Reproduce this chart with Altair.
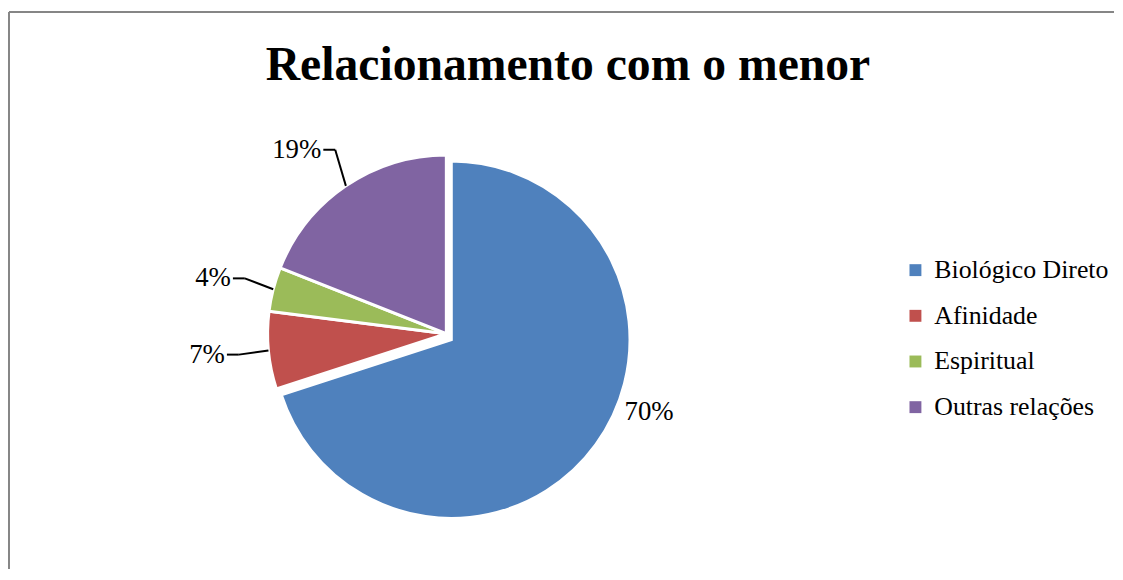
import math
import altair as alt
import pandas as pd

# ---- data ----
categories = ["Biológico Direto", "Afinidade", "Espiritual", "Outras relações"]
values = [70, 7, 4, 19]
labels = ["70%", "7%", "4%", "19%"]
colors = ["#4F81BD", "#C0504D", "#9BBB59", "#8064A2"]
title_text = "Relacionamento com o menor"

df = pd.DataFrame({
    "cat": categories,
    "value": values,
    "label": labels,
    "order": list(range(len(categories))),
})

# ---- layout ----
W, H = 1112, 561
CX, CY = 440.5, 324      # centre of the small slices
BX, BY = 445.5, 330      # centre of the exploded main slice
R = 180                  # pie radius
RT = 224                 # label radius
FONT = "Liberation Serif"

is_main = alt.datum.cat == categories[0]
not_main = alt.datum.cat != categories[0]

color = alt.Color(
    "cat:N",
    scale=alt.Scale(domain=categories, range=colors),
    sort=categories,
    legend=alt.Legend(
        title=None,
        orient="none",
        legendX=900,
        legendY=247,
        symbolType="square",
        symbolSize=144,
        symbolStrokeWidth=0,
        labelFont=FONT,
        labelFontSize=26,
        labelColor="black",
        labelOffset=6,
        rowPadding=20,
        padding=0,
        labelLimit=400,
    ),
)

base = alt.Chart(df)

arcs_rest = base.mark_arc(radius=R, stroke="white", strokeWidth=3).encode(
    theta=alt.Theta("value:Q", stack=True),
    color=color,
    order=alt.Order("order:Q"),
    x=alt.value(CX),
    y=alt.value(CY),
    opacity=alt.condition(is_main, alt.value(0), alt.value(1)),
)

arcs_main = base.mark_arc(radius=R, stroke="white", strokeWidth=3).encode(
    theta=alt.Theta("value:Q", stack=True),
    color=color,
    order=alt.Order("order:Q"),
    x=alt.value(BX),
    y=alt.value(BY),
    opacity=alt.condition(is_main, alt.value(1), alt.value(0)),
)

geo = (
    base.transform_joinaggregate(total="sum(value)")
    .transform_window(cum="sum(value)", sort=[alt.SortField("order")], frame=[None, 0])
    .transform_calculate(mid="(datum.cum - datum.value/2) / datum.total * 2 * PI")
    .transform_calculate(
        ex=f"{CX} + {R} * sin(datum.mid)",
        ey=f"{CY} - {R} * cos(datum.mid)",
        tx=f"{CX} + {RT} * sin(datum.mid)",
        ty=f"{CY} - {RT} * cos(datum.mid)",
    )
    .transform_calculate(bx="datum.tx + 14", lx="datum.tx + 2")
    .transform_filter(not_main)
)

lead1 = geo.mark_rule(color="black", strokeWidth=2).encode(
    x=alt.X("ex:Q", scale=None, axis=None),
    y=alt.Y("ey:Q", scale=None, axis=None),
    x2="bx:Q",
    y2="ty:Q",
)
lead2 = geo.mark_rule(color="black", strokeWidth=2).encode(
    x=alt.X("bx:Q", scale=None, axis=None),
    x2="lx:Q",
    y=alt.Y("ty:Q", scale=None, axis=None),
)
lbl_small = geo.mark_text(
    font=FONT, fontSize=27, align="right", baseline="middle", color="black"
).encode(
    x=alt.X("tx:Q", scale=None, axis=None),
    y=alt.Y("ty:Q", scale=None, axis=None),
    text="label:N",
)

lbl_main = base.transform_filter(is_main).mark_text(
    font=FONT, fontSize=27, align="center", baseline="middle", color="black",
    theta=math.radians(110), radius=212,
).encode(x=alt.value(BX), y=alt.value(BY), text="label:N")

one = pd.DataFrame({"t": [title_text]})
title = alt.Chart(one).mark_text(
    font=FONT, fontSize=48, fontWeight="bold", align="center",
    baseline="alphabetic", color="black",
).encode(x=alt.value(563), y=alt.value(68), text="t:N")

border_top = alt.Chart(one).mark_rule(color="#868686", strokeWidth=2).encode(
    x=alt.value(0), x2=alt.value(W + 1), y=alt.value(0)
)
border_left = alt.Chart(one).mark_rule(color="#868686", strokeWidth=2).encode(
    x=alt.value(0), y=alt.value(0), y2=alt.value(H)
)

chart = (
    alt.layer(border_top, border_left, title, arcs_rest, arcs_main,
              lead1, lead2, lbl_small, lbl_main)
    .properties(width=W, height=H,
                padding={"left": 0, "top": 1, "right": 0, "bottom": 0})
    .configure_view(stroke=None)
)

chart.save("out.html", embed_options={"renderer": "svg", "actions": False})
